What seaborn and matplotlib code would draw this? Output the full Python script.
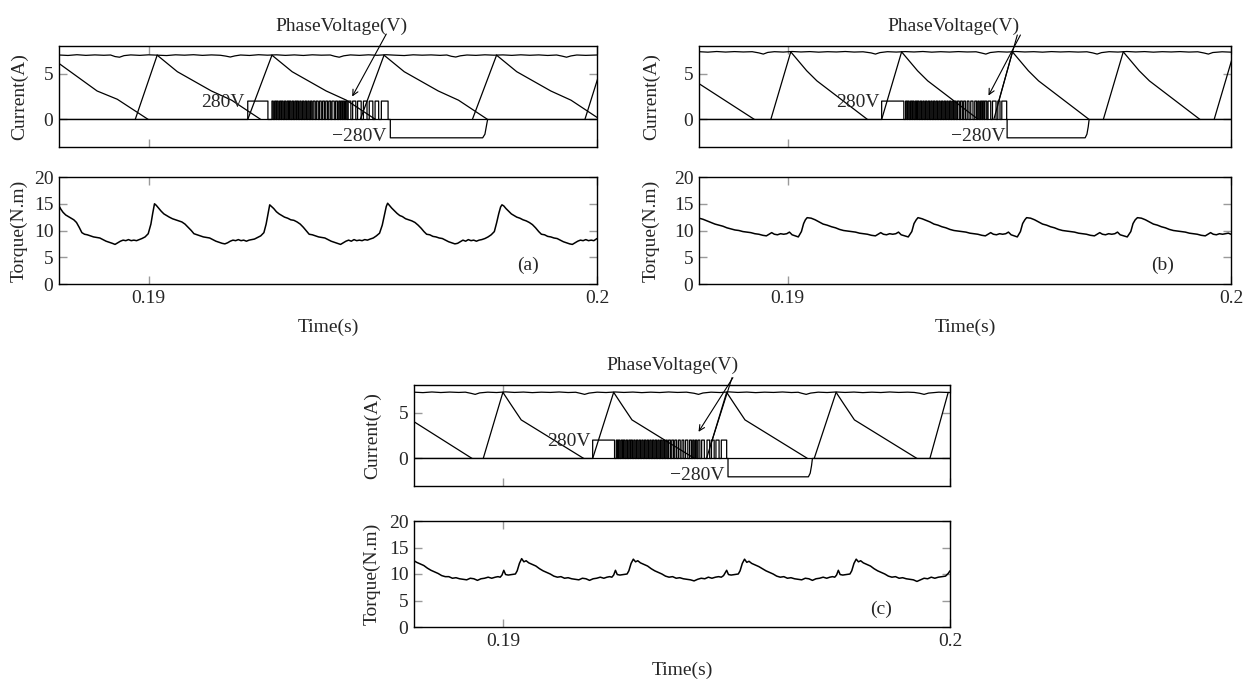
import numpy as np
import pandas as pd
import seaborn as sns
import matplotlib.pyplot as plt

sns.set_style("ticks")
plt.rcParams['font.family'] = ['Liberation Serif', 'DejaVu Serif']
plt.rcParams['font.size'] = 14

# time window (ms), plotted in seconds
t_start, t_end = 188.0, 200.0
dc_bus = 280            # V, drawn at +-2 on the current axis
volt_scale = 2.0 / 280

# ---------------- panel (a) ----------------
a_top_t = [188.00, 188.20, 188.40, 188.60, 188.80, 189.00, 189.15, 189.25, 189.35, 189.45, 189.60, 189.80,
           190.00, 190.20, 190.40, 190.60, 190.80, 191.00, 191.20, 191.40, 191.60, 191.72, 191.82, 191.92,
           192.05, 192.25, 192.45, 192.65, 192.85, 193.05, 193.25, 193.45, 193.65, 193.85, 194.05, 194.15,
           194.25, 194.35, 194.50, 194.70, 194.90, 195.10, 195.30, 195.50, 195.70, 195.90, 196.10, 196.30,
           196.50, 196.65, 196.75, 196.85, 196.95, 197.10, 197.30, 197.50, 197.70, 197.90, 198.10, 198.30,
           198.50, 198.70, 198.90, 199.10, 199.22, 199.32, 199.42, 199.55, 199.75, 200.00]
a_top_i = [7.02, 6.97, 7.05, 6.98, 7.03, 6.99, 7.02, 6.85, 6.78, 6.95, 7.03, 6.98,
           7.04, 7.00, 6.96, 7.04, 7.00, 7.05, 6.98, 7.03, 6.99, 6.90, 6.80, 6.92,
           7.02, 6.97, 7.05, 7.00, 7.04, 6.98, 7.03, 6.97, 7.04, 7.00, 7.02, 6.88,
           6.78, 6.93, 7.03, 6.98, 7.04, 6.99, 7.05, 7.00, 6.96, 7.04, 7.00, 7.03,
           6.98, 7.02, 6.88, 6.80, 6.93, 7.02, 6.98, 7.04, 7.00, 7.03, 6.98, 7.04,
           6.99, 7.03, 6.97, 7.02, 6.90, 6.78, 6.92, 7.02, 6.98, 7.02]
a_ipk = 7.0
a_rise_on = [189.70, 192.21, 194.72, 197.22, 199.73]
a_rise_pk = [190.19, 192.75, 195.25, 197.76, 200.18]
a_decay_t = [[188.00, 188.85, 189.30, 189.99],
             [190.19, 190.64, 191.40, 191.85, 192.50],
             [192.75, 193.20, 193.96, 194.41, 195.06],
             [195.25, 195.70, 196.46, 196.91, 197.56],
             [197.76, 198.21, 198.97, 199.42, 200.07]]
a_decay_i = [[6.1, 3.1, 2.2, 0.0],
             [7.0, 5.2, 3.1, 2.1, 0.0],
             [7.0, 5.2, 3.1, 2.1, 0.0],
             [7.0, 5.2, 3.1, 2.1, 0.0],
             [7.0, 5.2, 3.1, 2.1, 0.0]]
a_pulse = [192.21, 192.66]
a_chop_on = [192.75, 192.81, 192.86, 192.92, 192.97, 193.03, 193.09, 193.14, 193.20, 193.26, 193.31, 193.37,
             193.43, 193.49, 193.55, 193.61, 193.67, 193.74, 193.81, 193.88, 193.95, 194.02, 194.09, 194.17,
             194.24, 194.29, 194.34, 194.39, 194.45, 194.55, 194.66, 194.79, 194.92, 195.05, 195.19]
a_chop_off = [192.78, 192.84, 192.89, 192.95, 193.00, 193.06, 193.12, 193.17, 193.23, 193.29, 193.34, 193.40,
              193.46, 193.52, 193.58, 193.64, 193.71, 193.78, 193.85, 193.92, 193.99, 194.06, 194.14, 194.21,
              194.27, 194.32, 194.37, 194.42, 194.51, 194.62, 194.74, 194.87, 195.00, 195.13, 195.34]
a_neg = [195.39, 197.45]
a_ramp_t = [197.45, 197.50, 197.53, 197.56]
a_ramp_v = [-280, -225, -110, 0]
a_torque_t = [188.00, 188.04, 188.09, 188.15, 188.21, 188.27, 188.33, 188.39, 188.45, 188.51, 188.57, 188.63,
              188.70, 188.77, 188.84, 188.91, 188.98, 189.05, 189.12, 189.19, 189.25, 189.31, 189.37, 189.43,
              189.49, 189.55, 189.61, 189.67, 189.73, 189.79, 189.85, 189.92, 189.99, 190.05, 190.09, 190.13,
              190.17, 190.22, 190.28, 190.34, 190.40, 190.46, 190.53, 190.60, 190.67, 190.74, 190.81, 190.88,
              190.95, 191.01, 191.08, 191.15, 191.22, 191.29, 191.36, 191.43, 191.50, 191.57, 191.64, 191.70,
              191.76, 191.82, 191.88, 191.94, 192.00, 192.06, 192.12, 192.18, 192.24, 192.30, 192.36, 192.43,
              192.50, 192.57, 192.62, 192.66, 192.70,
              192.74, 192.79, 192.85, 192.91, 192.97, 193.03, 193.10, 193.17, 193.24, 193.31, 193.38, 193.45,
              193.52, 193.58, 193.65, 193.72, 193.79, 193.86, 193.93, 194.00, 194.07, 194.14, 194.21, 194.28,
              194.34, 194.40, 194.46, 194.52, 194.58, 194.64, 194.70, 194.76, 194.82, 194.88, 194.94, 195.01,
              195.08, 195.15, 195.21, 195.26, 195.30, 195.33,
              195.37, 195.42, 195.48, 195.54, 195.60, 195.66, 195.73, 195.80, 195.87, 195.94, 196.01, 196.08,
              196.14, 196.20, 196.27, 196.34, 196.41, 196.48, 196.55, 196.62, 196.69, 196.76, 196.83, 196.89,
              196.95, 197.01, 197.07, 197.13, 197.19, 197.25, 197.31, 197.37, 197.43, 197.50, 197.57, 197.64,
              197.71, 197.76, 197.81, 197.85, 197.88,
              197.92, 197.97, 198.03, 198.09, 198.15, 198.21, 198.28, 198.35, 198.42, 198.49, 198.56, 198.63,
              198.70, 198.76, 198.83, 198.90, 198.97, 199.04, 199.11, 199.18, 199.25, 199.32, 199.39, 199.45,
              199.51, 199.57, 199.63, 199.69, 199.75, 199.81, 199.87, 199.93, 200.00]
a_torque = [14.6, 14.0, 13.4, 12.9, 12.6, 12.3, 12.0, 11.5, 10.6, 9.6, 9.3, 9.2,
            9.0, 8.8, 8.7, 8.6, 8.3, 8.0, 7.8, 7.6, 7.4, 7.7, 8.0, 8.2,
            8.1, 8.3, 8.1, 8.2, 8.1, 8.3, 8.5, 8.8, 9.4, 11.2, 13.2, 15.0,
            14.7, 14.2, 13.6, 13.1, 12.8, 12.5, 12.2, 12.0, 11.8, 11.6, 11.2, 10.6,
            10.0, 9.4, 9.2, 9.0, 8.8, 8.7, 8.6, 8.3, 8.0, 7.8, 7.6, 7.5,
            7.7, 8.0, 8.2, 8.1, 8.3, 8.1, 8.2, 8.0, 8.2, 8.3, 8.4, 8.7,
            9.0, 9.6, 11.2, 13.0, 14.8,
            14.5, 14.1, 13.5, 13.1, 12.8, 12.5, 12.3, 12.0, 11.9, 11.6, 11.2, 10.6,
            9.9, 9.3, 9.2, 9.0, 8.8, 8.7, 8.6, 8.3, 8.0, 7.8, 7.6, 7.4,
            7.7, 8.0, 8.2, 8.0, 8.3, 8.1, 8.2, 8.1, 8.3, 8.2, 8.4, 8.6,
            9.0, 9.5, 11.0, 13.0, 14.5, 15.1,
            14.7, 14.2, 13.7, 13.2, 12.8, 12.6, 12.2, 12.0, 11.8, 11.5, 11.0, 10.4,
            9.8, 9.3, 9.2, 8.9, 8.8, 8.6, 8.5, 8.2, 7.9, 7.7, 7.5, 7.6,
            7.9, 8.2, 8.0, 8.3, 8.1, 8.2, 8.0, 8.2, 8.3, 8.5, 8.8, 9.2,
            9.8, 11.4, 13.2, 14.4, 14.8,
            14.6, 14.1, 13.6, 13.1, 12.8, 12.5, 12.3, 12.0, 11.8, 11.5, 11.1, 10.5,
            9.8, 9.3, 9.2, 8.9, 8.8, 8.6, 8.5, 8.2, 7.9, 7.7, 7.5, 7.4,
            7.7, 8.0, 8.2, 8.1, 8.3, 8.1, 8.2, 8.1, 8.5]

# ---------------- panel (b) ----------------
b_top_t = [188.00, 188.20, 188.40, 188.60, 188.80, 189.00, 189.20, 189.35, 189.45, 189.55, 189.70, 189.90,
           190.10, 190.30, 190.50, 190.70, 190.90, 191.10, 191.30, 191.50, 191.70, 191.88, 191.98, 192.08,
           192.25, 192.45, 192.65, 192.85, 193.05, 193.25, 193.45, 193.65, 193.85, 194.05, 194.25, 194.37,
           194.47, 194.57, 194.75, 194.95, 195.15, 195.35, 195.55, 195.75, 195.95, 196.15, 196.35, 196.55,
           196.75, 196.88, 196.98, 197.08, 197.25, 197.45, 197.65, 197.85, 198.05, 198.25, 198.45, 198.65,
           198.85, 199.05, 199.25, 199.39, 199.49, 199.59, 199.80, 200.00]
b_top_i = [7.38, 7.33, 7.40, 7.34, 7.39, 7.35, 7.38, 7.25, 7.12, 7.30, 7.38, 7.34,
           7.40, 7.35, 7.39, 7.33, 7.38, 7.35, 7.40, 7.34, 7.37, 7.25, 7.12, 7.28,
           7.38, 7.34, 7.39, 7.35, 7.40, 7.33, 7.38, 7.34, 7.39, 7.35, 7.37, 7.24,
           7.12, 7.29, 7.38, 7.34, 7.40, 7.35, 7.38, 7.33, 7.39, 7.35, 7.38, 7.34,
           7.37, 7.25, 7.12, 7.28, 7.38, 7.34, 7.40, 7.35, 7.39, 7.33, 7.38, 7.35,
           7.39, 7.34, 7.37, 7.24, 7.12, 7.29, 7.37, 7.33]
b_ipk = 7.36
b_rise_on = [189.62, 192.12, 194.65, 197.12, 199.62]
b_rise_pk = [190.07, 192.57, 195.07, 197.57, 200.07]
b_decay_t = [[188.00, 189.25],
             [190.07, 190.43, 190.66, 191.80],
             [192.57, 192.93, 193.16, 194.30],
             [195.07, 195.43, 195.66, 196.80],
             [197.57, 197.93, 198.16, 199.30]]
b_decay_i = [[3.9, 0.0],
             [7.36, 5.3, 4.2, 0.0],
             [7.36, 5.3, 4.2, 0.0],
             [7.36, 5.3, 4.2, 0.0],
             [7.36, 5.3, 4.2, 0.0]]
b_pulse = [192.12, 192.62]
b_chop_on = [192.66, 192.71, 192.77, 192.82, 192.88, 192.93, 192.99, 193.05, 193.11, 193.17, 193.23, 193.29,
             193.35, 193.41, 193.47, 193.53, 193.59, 193.65, 193.71, 193.77, 193.83, 193.90, 193.97, 194.05,
             194.13, 194.22, 194.29, 194.35, 194.40, 194.45, 194.52, 194.62, 194.74, 194.83]
b_chop_off = [192.69, 192.74, 192.80, 192.85, 192.91, 192.96, 193.02, 193.08, 193.14, 193.20, 193.26, 193.32,
              193.38, 193.44, 193.50, 193.56, 193.62, 193.68, 193.74, 193.80, 193.87, 193.94, 194.01, 194.09,
              194.18, 194.26, 194.32, 194.38, 194.43, 194.49, 194.58, 194.70, 194.79, 194.94]
b_neg = [194.95, 196.71]
b_ramp_t = [196.71, 196.75, 196.78, 196.80]
b_ramp_v = [-280, -225, -110, 0]
b_torque_t = [188.00, 188.09, 188.18, 188.27, 188.36, 188.45, 188.54, 188.63, 188.72, 188.81, 188.90, 188.99,
              189.08, 189.17, 189.26, 189.35, 189.44, 189.52, 189.58, 189.64, 189.70, 189.77, 189.84, 189.91,
              189.98, 190.04, 190.10, 190.17, 190.24, 190.31, 190.36, 190.40, 190.44,
              190.53, 190.62, 190.71, 190.80, 190.89, 190.99, 191.08, 191.17, 191.26, 191.35, 191.44, 191.53,
              191.62, 191.71, 191.80, 191.89, 191.98, 192.04, 192.10, 192.16, 192.23, 192.30, 192.37, 192.44,
              192.50, 192.56, 192.64, 192.72, 192.80, 192.85, 192.90, 192.94,
              193.03, 193.12, 193.21, 193.30, 193.39, 193.48, 193.57, 193.66, 193.75, 193.84, 193.93, 194.02,
              194.11, 194.20, 194.29, 194.38, 194.46, 194.52, 194.58, 194.64, 194.71, 194.78, 194.85, 194.92,
              194.98, 195.04, 195.11, 195.18, 195.25, 195.30, 195.35, 195.39,
              195.48, 195.57, 195.66, 195.75, 195.84, 195.93, 196.02, 196.11, 196.20, 196.29, 196.38, 196.47,
              196.56, 196.65, 196.74, 196.83, 196.92, 196.98, 197.04, 197.10, 197.17, 197.24, 197.31, 197.38,
              197.44, 197.50, 197.58, 197.66, 197.74, 197.79, 197.84, 197.89,
              197.98, 198.07, 198.16, 198.25, 198.34, 198.43, 198.52, 198.61, 198.70, 198.79, 198.88, 198.97,
              199.06, 199.15, 199.24, 199.33, 199.42, 199.48, 199.54, 199.60, 199.67, 199.74, 199.81, 199.88,
              199.94, 200.00]
b_torque = [12.3, 12.1, 11.8, 11.5, 11.2, 11.0, 10.8, 10.5, 10.3, 10.1, 10.0, 9.8,
            9.7, 9.6, 9.4, 9.3, 9.1, 9.0, 9.3, 9.6, 9.3, 9.2, 9.4, 9.3,
            9.4, 9.7, 9.2, 9.0, 8.8, 9.8, 11.3, 12.0, 12.4,
            12.3, 12.0, 11.6, 11.2, 11.0, 10.7, 10.5, 10.2, 10.0, 9.9, 9.8, 9.7,
            9.5, 9.4, 9.3, 9.1, 9.0, 9.3, 9.6, 9.3, 9.2, 9.4, 9.3, 9.4,
            9.7, 9.2, 9.0, 8.8, 9.8, 11.3, 12.0, 12.4,
            12.2, 11.9, 11.6, 11.2, 11.0, 10.7, 10.5, 10.2, 10.0, 9.9, 9.8, 9.7,
            9.5, 9.4, 9.3, 9.1, 9.0, 9.3, 9.6, 9.3, 9.2, 9.4, 9.3, 9.4,
            9.7, 9.2, 9.0, 8.8, 9.8, 11.3, 12.0, 12.4,
            12.3, 12.0, 11.6, 11.2, 11.0, 10.7, 10.5, 10.2, 10.0, 9.9, 9.8, 9.7,
            9.5, 9.4, 9.3, 9.1, 9.0, 9.3, 9.6, 9.3, 9.2, 9.4, 9.3, 9.4,
            9.7, 9.2, 9.0, 8.8, 9.8, 11.3, 12.0, 12.4,
            12.3, 12.0, 11.6, 11.2, 11.0, 10.7, 10.5, 10.2, 10.0, 9.9, 9.8, 9.7,
            9.5, 9.4, 9.3, 9.1, 9.0, 9.3, 9.6, 9.3, 9.2, 9.4, 9.3, 9.4,
            9.5, 9.3]

# ---------------- panel (c) ----------------
c_top_t = [188.00, 188.20, 188.40, 188.60, 188.80, 189.00, 189.15, 189.27, 189.37, 189.47, 189.65, 189.85,
           190.05, 190.25, 190.45, 190.65, 190.85, 191.05, 191.25, 191.45, 191.62, 191.72, 191.82, 191.92,
           192.10, 192.30, 192.50, 192.70, 192.90, 193.10, 193.30, 193.50, 193.70, 193.90, 194.10, 194.27,
           194.37, 194.47, 194.65, 194.85, 195.05, 195.25, 195.45, 195.65, 195.85, 196.05, 196.25, 196.45,
           196.60, 196.68, 196.78, 196.88, 197.05, 197.25, 197.45, 197.65, 197.85, 198.05, 198.25, 198.45,
           198.65, 198.85, 199.05, 199.20, 199.32, 199.42, 199.52, 199.75, 200.00]
c_top_i = [7.22, 7.17, 7.24, 7.18, 7.23, 7.19, 7.22, 7.10, 6.98, 7.14, 7.22, 7.18,
           7.25, 7.19, 7.23, 7.17, 7.22, 7.19, 7.24, 7.18, 7.21, 7.10, 6.98, 7.12,
           7.22, 7.18, 7.24, 7.19, 7.23, 7.17, 7.22, 7.18, 7.24, 7.19, 7.22, 7.10,
           6.98, 7.13, 7.22, 7.18, 7.25, 7.19, 7.23, 7.17, 7.22, 7.19, 7.24, 7.18,
           7.21, 7.10, 6.98, 7.12, 7.22, 7.18, 7.24, 7.19, 7.23, 7.17, 7.22, 7.18,
           7.24, 7.19, 7.22, 7.19, 7.10, 6.98, 7.12, 7.22, 7.18]
c_ipk = 7.2
c_rise_on = [189.55, 192.00, 194.55, 196.96, 199.55]
c_rise_pk = [189.99, 192.47, 195.00, 197.45, 199.96]
c_decay_t = [[188.00, 189.30],
             [189.99, 190.18, 190.40, 191.80],
             [192.47, 192.66, 192.88, 194.28],
             [195.00, 195.19, 195.41, 196.81],
             [197.45, 197.64, 197.86, 199.26]]
c_decay_i = [[4.0, 0.0],
             [7.2, 5.8, 4.2, 0.0],
             [7.2, 5.8, 4.2, 0.0],
             [7.2, 5.8, 4.2, 0.0],
             [7.2, 5.8, 4.2, 0.0]]
c_pulse = [192.00, 192.49]
c_chop_on = [192.53, 192.58, 192.64, 192.69, 192.75, 192.81, 192.86, 192.92, 192.98, 193.04, 193.10, 193.16,
             193.22, 193.28, 193.34, 193.40, 193.46, 193.52, 193.58, 193.64, 193.70, 193.77, 193.84, 193.92,
             194.00, 194.08, 194.17, 194.24, 194.30, 194.36, 194.44, 194.56, 194.66, 194.76, 194.88]
c_chop_off = [192.56, 192.61, 192.67, 192.72, 192.78, 192.84, 192.89, 192.95, 193.01, 193.07, 193.13, 193.19,
              193.25, 193.31, 193.37, 193.43, 193.49, 193.55, 193.61, 193.67, 193.74, 193.81, 193.88, 193.96,
              194.04, 194.13, 194.21, 194.27, 194.33, 194.40, 194.50, 194.62, 194.72, 194.83, 195.00]
c_neg = [195.03, 196.83]
c_ramp_t = [196.83, 196.87, 196.90, 196.92]
c_ramp_v = [-280, -225, -110, 0]
c_torque_t = [188.00, 188.06, 188.14, 188.22, 188.30, 188.38, 188.46, 188.54, 188.62, 188.70, 188.78, 188.86,
              188.94, 189.02, 189.10, 189.18, 189.26, 189.34, 189.42, 189.50, 189.58, 189.66, 189.74, 189.82,
              189.88, 189.93, 189.97, 190.01, 190.05, 190.11, 190.19, 190.27, 190.31, 190.36, 190.41,
              190.46, 190.51, 190.57, 190.65, 190.73, 190.81, 190.89, 190.97, 191.05, 191.13, 191.21, 191.29,
              191.37, 191.45, 191.53, 191.61, 191.69, 191.77, 191.85, 191.93, 192.01, 192.09, 192.17, 192.25,
              192.32, 192.38, 192.43, 192.47, 192.51, 192.55, 192.61, 192.69, 192.77, 192.81, 192.86, 192.91,
              192.96, 193.01, 193.07, 193.15, 193.23, 193.31, 193.39, 193.47, 193.55, 193.63, 193.71, 193.79,
              193.87, 193.95, 194.03, 194.11, 194.19, 194.27, 194.35, 194.43, 194.51, 194.59, 194.67, 194.75,
              194.82, 194.88, 194.93, 195.00, 195.04, 195.10, 195.18, 195.26, 195.30, 195.35, 195.40,
              195.45, 195.50, 195.56, 195.64, 195.72, 195.80, 195.88, 195.96, 196.04, 196.12, 196.20, 196.28,
              196.36, 196.44, 196.52, 196.60, 196.68, 196.76, 196.84, 196.92, 197.00, 197.08, 197.16, 197.24,
              197.31, 197.37, 197.42, 197.46, 197.50, 197.54, 197.60, 197.68, 197.76, 197.80, 197.85, 197.90,
              197.95, 198.00, 198.06, 198.14, 198.22, 198.30, 198.38, 198.46, 198.54, 198.62, 198.70, 198.78,
              198.86, 198.94, 199.02, 199.10, 199.18, 199.26, 199.34, 199.42, 199.50, 199.58, 199.66, 199.74,
              199.82, 199.90, 199.96, 200.00]
c_torque = [12.5, 12.2, 11.9, 11.6, 11.1, 10.7, 10.4, 10.1, 9.7, 9.5, 9.5, 9.2,
            9.3, 9.1, 9.0, 8.9, 9.2, 9.1, 8.8, 9.1, 9.2, 9.4, 9.2, 9.4,
            9.5, 9.4, 9.8, 10.7, 9.9, 9.8, 9.9, 10.0, 10.6, 12.0, 12.9,
            12.3, 12.5, 12.1, 11.8, 11.5, 11.0, 10.6, 10.3, 10.0, 9.6, 9.4, 9.5,
            9.2, 9.3, 9.1, 9.0, 8.9, 9.2, 9.1, 8.8, 9.1, 9.2, 9.4, 9.2,
            9.4, 9.5, 9.4, 9.8, 10.7, 9.9, 9.8, 9.9, 10.0, 10.6, 12.0, 12.8,
            12.3, 12.5, 12.1, 11.8, 11.5, 11.0, 10.6, 10.3, 10.0, 9.6, 9.4, 9.5,
            9.2, 9.3, 9.1, 9.0, 8.9, 8.7, 9.0, 9.2, 9.1, 9.4, 9.2, 9.4,
            9.5, 9.4, 9.7, 10.7, 9.9, 9.8, 9.9, 10.0, 10.6, 12.0, 12.8,
            12.2, 12.4, 12.0, 11.7, 11.4, 11.0, 10.6, 10.3, 10.0, 9.6, 9.4, 9.5,
            9.2, 9.3, 9.1, 9.0, 8.9, 9.2, 9.1, 8.8, 9.1, 9.2, 9.4, 9.2,
            9.4, 9.5, 9.4, 9.8, 10.7, 9.9, 9.8, 9.9, 10.0, 10.6, 12.0, 12.8,
            12.3, 12.5, 12.1, 11.8, 11.5, 11.0, 10.6, 10.3, 10.0, 9.6, 9.4, 9.5,
            9.2, 9.3, 9.1, 9.0, 8.9, 8.6, 8.9, 9.2, 9.1, 9.4, 9.2, 9.4,
            9.5, 9.6, 10.1, 10.6]

panels = {
    'a': dict(top=(a_top_t, a_top_i), ipk=a_ipk, rise=(a_rise_on, a_rise_pk), decay=(a_decay_t, a_decay_i),
              pulse=a_pulse, chop=(a_chop_on, a_chop_off), neg=a_neg, ramp=(a_ramp_t, a_ramp_v),
              torque=(a_torque_t, a_torque),
              label_xy=(194.31, 10.1), arrows=[((195.30, 9.3), (194.54, 2.5), '->')],
              pos_lbl=192.14, neg_lbl=195.30,
              rect=(59, 538, 46, 147, 177, 284), ylab=-31),
    'b': dict(top=(b_top_t, b_top_i), ipk=b_ipk, rise=(b_rise_on, b_rise_pk), decay=(b_decay_t, b_decay_i),
              pulse=b_pulse, chop=(b_chop_on, b_chop_off), neg=b_neg, ramp=(b_ramp_t, b_ramp_v),
              torque=(b_torque_t, b_torque),
              label_xy=(193.75, 10.1), arrows=[((195.25, 9.2), (194.53, 2.6), '->'),
                                               ((195.18, 9.2), (194.76, 2.0), '-')],
              pos_lbl=192.07, neg_lbl=194.92,
              rect=(699, 532, 46, 147, 177, 284), ylab=-39),
    'c': dict(top=(c_top_t, c_top_i), ipk=c_ipk, rise=(c_rise_on, c_rise_pk), decay=(c_decay_t, c_decay_i),
              pulse=c_pulse, chop=(c_chop_on, c_chop_off), neg=c_neg, ramp=(c_ramp_t, c_ramp_v),
              torque=(c_torque_t, c_torque),
              label_xy=(193.79, 10.1), arrows=[((195.14, 8.8), (194.37, 2.9), '->'),
                                               ((195.12, 8.8), (194.65, 1.6), '-')],
              pos_lbl=191.96, neg_lbl=194.95,
              rect=(414, 536, 385, 486, 521, 627), ylab=-33),
}

W, H = 1251, 682
fig = plt.figure(figsize=(W / 100, H / 100), dpi=100)


def style_axes(ax):
    ax.tick_params(direction='in', top=True, right=True, length=6, width=1,
                   color='#9a9a9a', labelsize=14, pad=4)
    for s in ax.spines.values():
        s.set_linewidth(1.0)
        s.set_color('black')
    ax.set_xlim(t_start / 1000, t_end / 1000)
    ax.set_xticks([0.19, 0.2])


def voltage_path(p):
    t = [t_start, p['pulse'][0], p['pulse'][0], p['pulse'][1], p['pulse'][1]]
    v = [0, 0, dc_bus, dc_bus, 0]
    for on, off in zip(*p['chop']):
        t += [on, on, off, off]
        v += [0, dc_bus, dc_bus, 0]
    t += [p['neg'][0], p['neg'][0]]
    v += [0, -dc_bus]
    t += list(p['ramp'][0]) + [t_end]
    v += list(p['ramp'][1]) + [0]
    return t, [x * volt_scale for x in v]


for key, p in panels.items():
    left, width, ctop, cbot, ttop, tbot = p['rect']
    ax_i = fig.add_axes([left / W, 1 - cbot / H, width / W, (cbot - ctop) / H])
    ax_t = fig.add_axes([left / W, 1 - tbot / H, width / W, (tbot - ttop) / H])

    # current axes: every trace is its own segment
    rows = []
    seg = 0

    def add(ts, vs):
        global seg
        for tt, vv in zip(ts, vs):
            rows.append((tt / 1000, vv, seg))
        seg += 1

    add([t_start, t_end], [0, 0])
    add(*p['top'])
    for on, pk in zip(*p['rise']):
        add([on, pk], [0, p['ipk']])
    for ts, vs in zip(*p['decay']):
        add(ts, vs)
    add(*voltage_path(p))
    df = pd.DataFrame(rows, columns=['t', 'v', 'seg'])
    sns.lineplot(data=df, x='t', y='v', units='seg', estimator=None, sort=False,
                 color='black', linewidth=0.9, ax=ax_i, legend=False)
    style_axes(ax_i)
    ax_i.set_ylim(-3, 8)
    ax_i.set_yticks([0, 5])
    ax_i.set_xticklabels([])
    ax_i.set_xlabel('')
    ax_i.set_ylabel('Current(A)', fontsize=14)

    ax_i.text(p['pos_lbl'] / 1000, 1.8, '280V', ha='right', va='center', fontsize=14)
    ax_i.text(p['neg_lbl'] / 1000, -1.9, '\u2212280V', ha='right', va='center', fontsize=14)
    ax_i.text(p['label_xy'][0] / 1000, p['label_xy'][1], 'PhaseVoltage(V)', ha='center',
              va='center', fontsize=14, clip_on=False)
    for tail, head, style in p['arrows']:
        ax_i.annotate('', xy=(head[0] / 1000, head[1]), xytext=(tail[0] / 1000, tail[1]),
                      arrowprops=dict(arrowstyle=style, lw=0.8, color='black',
                                      shrinkA=0, shrinkB=0, mutation_scale=10),
                      annotation_clip=False)

    # torque axes
    tq_t, tq = p['torque']
    sns.lineplot(x=np.array(tq_t) / 1000, y=tq, sort=False, estimator=None,
                 color='black', linewidth=1.1, ax=ax_t)
    style_axes(ax_t)
    ax_t.set_ylim(0, 20)
    ax_t.set_yticks([0, 5, 10, 15, 20])
    ax_t.set_xticklabels(['0.19', '0.2'])
    ax_t.set_ylabel('Torque(N.m)', fontsize=14)
    ax_t.set_xlabel('Time(s)', fontsize=14, labelpad=9)
    ax_t.text(0.19845, 3.4, '(%s)' % key, ha='center', va='center', fontsize=14)

    lx = p['ylab'] / width
    ax_i.yaxis.set_label_coords(lx, 0.5)
    ax_t.yaxis.set_label_coords(lx, 0.5)

fig.savefig('out.png', dpi=100)
